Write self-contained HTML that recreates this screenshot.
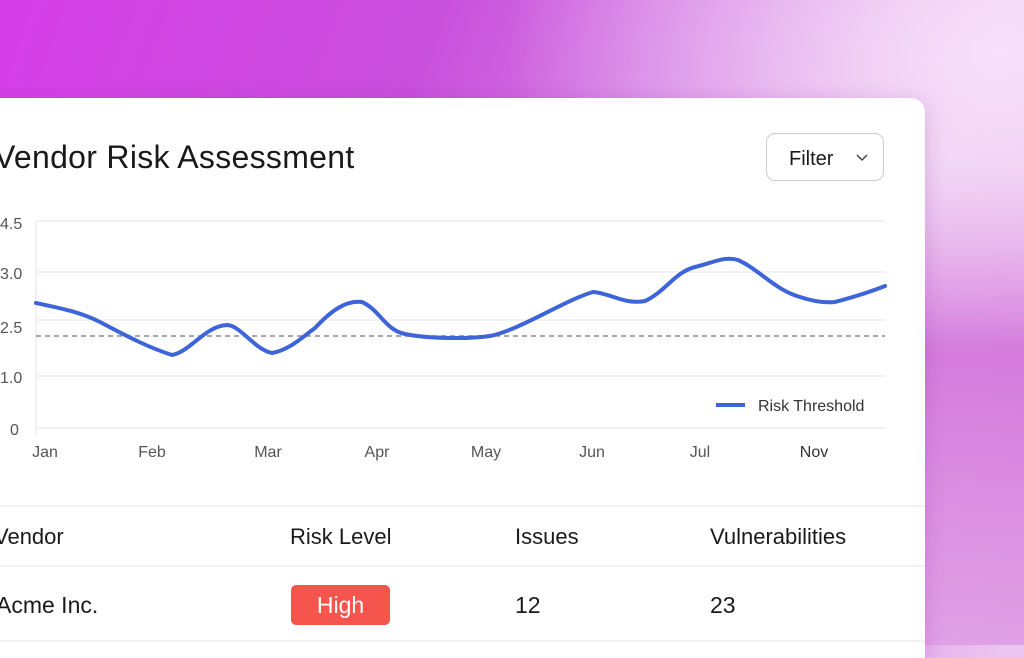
<!DOCTYPE html>
<html><head><style>
body{margin:0;width:1024px;height:645px;overflow:hidden;font-family:"Liberation Sans",sans-serif;
background:linear-gradient(110deg,#d63ee8 0%,#c94fdc 35%,#d88ae6 60%,#ecc6f0 80%,#eab8ee 100%);position:relative}
.bg2{position:absolute;inset:0;background:radial-gradient(ellipse at 98% 8%,rgba(248,228,250,.9),rgba(248,228,250,0) 35%),linear-gradient(180deg,rgba(0,0,0,0) 25%,rgba(205,100,215,.75) 55%,rgba(220,150,225,.7) 100%)}
.card{position:absolute;left:-20px;top:98px;width:945px;height:560px;background:#fff;border-radius:0 14px 0 0;box-shadow:0 4px 20px rgba(120,30,140,.2)}
.t{position:absolute;color:#1a1a1a}
</style></head><body><div class="bg2"></div>
<div class="card"></div>
<div class="t" style="left:-6px;top:139px;font-size:32px;letter-spacing:0.3px">Vendor Risk Assessment</div>
<div style="position:absolute;left:766px;top:133px;width:118px;height:48px;border:1px solid #ccc;border-radius:9px;background:#fff;box-sizing:border-box"></div>
<div class="t" style="left:789px;top:148px;font-size:20px">Filter</div>
<svg style="position:absolute;left:0;top:0" width="1024" height="645">
<g stroke="#e6e6e6" stroke-width="1">
<line x1="36" x2="885" y1="221" y2="221"/><line x1="36" x2="885" y1="272" y2="272"/>
<line x1="36" x2="885" y1="320" y2="320"/><line x1="36" x2="885" y1="376" y2="376"/>
<line x1="36" x2="885" y1="428" y2="428"/><line x1="36" x2="36" y1="221" y2="436"/>
<line x1="0" x2="925" y1="506" y2="506"/><line x1="0" x2="925" y1="566" y2="566"/><line x1="0" x2="925" y1="641" y2="641"/>
</g>
<polyline points="857,155 862,160 867,155" fill="none" stroke="#444" stroke-width="1.5"/>
<line x1="36" x2="885" y1="336" y2="336" stroke="#888" stroke-width="1.5" stroke-dasharray="5,4"/>
<path d="M36,303 C60,308 80,312 100,322 C130,338 150,348 172,355 C190,352 205,326 227,325 C240,325 255,350 272,353 C290,350 305,335 315,328 C330,312 345,300 362,302 C380,310 385,330 405,334 C430,339 470,339 490,336 C520,330 565,300 593,292 C610,293 625,305 645,301 C665,292 675,272 695,267 C715,262 725,256 738,260 C760,270 775,290 800,297 C815,302 825,303 835,302 C850,298 870,292 885,286" fill="none" stroke="#3d64d8" stroke-width="4" stroke-linecap="round"/>
<line x1="716" x2="745" y1="405" y2="405" stroke="#3d64d8" stroke-width="4"/>
<g font-family="Liberation Sans,sans-serif" font-size="16" fill="#555">
<text x="0" y="229">4.5</text><text x="0" y="279">3.0</text><text x="0" y="333">2.5</text><text x="0" y="383">1.0</text><text x="10" y="435">0</text>
<g text-anchor="middle"><text x="45" y="457">Jan</text><text x="152" y="457">Feb</text><text x="268" y="457">Mar</text><text x="377" y="457">Apr</text><text x="486" y="457">May</text><text x="592" y="457">Jun</text><text x="700" y="457">Jul</text><text x="814" y="457" fill="#333">Nov</text></g>
<text x="758" y="411" fill="#333">Risk Threshold</text>
</g>
</svg>
<div class="t" style="left:-6px;top:524px;font-size:22px">Vendor</div>
<div class="t" style="left:290px;top:524px;font-size:22px">Risk Level</div>
<div class="t" style="left:515px;top:524px;font-size:22px">Issues</div>
<div class="t" style="left:710px;top:524px;font-size:22px">Vulnerabilities</div>
<div class="t" style="left:-4px;top:592px;font-size:23px">Acme Inc.</div>
<div style="position:absolute;left:291px;top:585px;width:99px;height:40px;background:#f5554d;border-radius:5px;color:#fff;font-size:23px;text-align:center;line-height:40px">High</div>
<div class="t" style="left:515px;top:592px;font-size:23px">12</div>
<div class="t" style="left:710px;top:592px;font-size:23px">23</div>
</body></html>
